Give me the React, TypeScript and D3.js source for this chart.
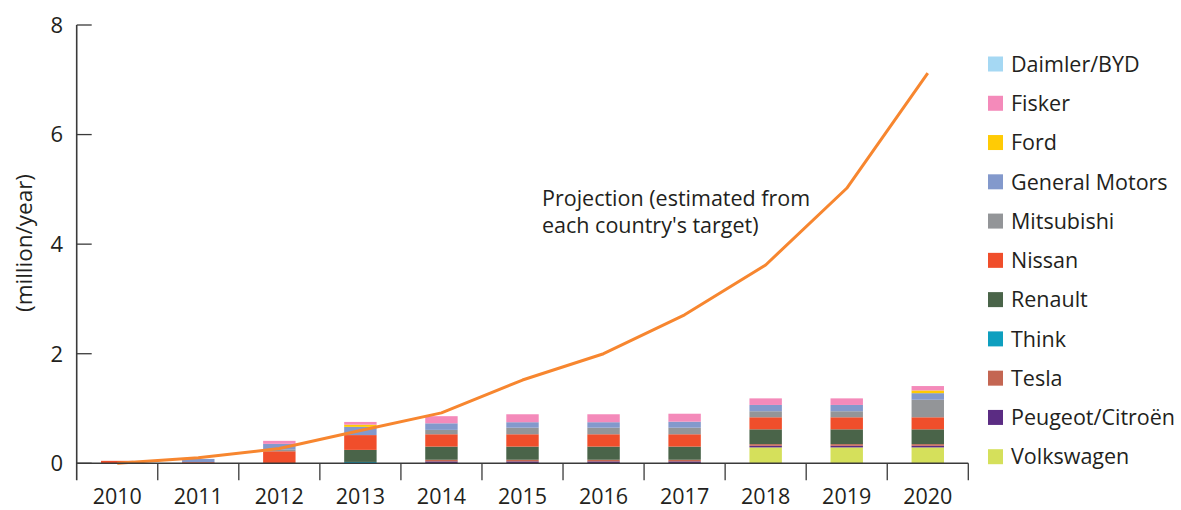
import React from "react";
import * as d3 from "d3";

const years = ["2010","2011","2012","2013","2014","2015","2016","2017","2018","2019","2020"];
const volkswagen = [0,0,0,0,0,0,0,0,0.29,0.29,0.29];
const peugeot = [0,0,0,0,0.035,0.035,0.035,0.035,0.03,0.03,0.03];
const tesla = [0,0,0,0,0.03,0.03,0.03,0.03,0.03,0.03,0.03];
const think = [0,0,0,0.025,0,0,0,0,0,0,0];
const renault = [0,0,0,0.22,0.24,0.24,0.24,0.24,0.27,0.27,0.27];
const nissan = [0.045,0.02,0.22,0.27,0.225,0.225,0.225,0.225,0.22,0.22,0.22];
const mitsubishi = [0,0,0.035,0,0.08,0.12,0.12,0.12,0.11,0.11,0.32];
const generalMotors = [0,0.06,0.1,0.15,0.12,0.1,0.1,0.11,0.115,0.115,0.12];
const ford = [0,0,0,0.04,0,0,0,0,0,0,0.05];
const fisker = [0,0,0.055,0.05,0.13,0.145,0.145,0.145,0.12,0.12,0.08];
const daimler = [0,0,0,0,0,0,0,0,0,0,0];
const projection = [0,0.1,0.27,0.6,0.92,1.52,2.0,2.71,3.62,5.02,7.12];
const yTicks = [0,2,4,6,8];

const seriesNames = ["Volkswagen","Peugeot/Citroën","Tesla","Think","Renault","Nissan","Mitsubishi","General Motors","Ford","Fisker","Daimler/BYD"];
const seriesValues = [volkswagen,peugeot,tesla,think,renault,nissan,mitsubishi,generalMotors,ford,fisker,daimler];
const seriesColors = ["#d5e05b","#5b2c83","#c46652","#0e9fbf","#4a6449","#f04e2b","#939598","#8399cc","#ffcb05","#f48aba","#a5d8f3"];
const legendOrder = ["Daimler/BYD","Fisker","Ford","General Motors","Mitsubishi","Nissan","Renault","Think","Tesla","Peugeot/Citroën","Volkswagen"];

const FONT = "'Open Sans', sans-serif";
const TEXT = "#231f20";
const AXIS = "#3a3a3a";
const FS = 21.5;

export default function App() {
  const left = 76.7, right = 968.3, top = 25, bottom = 463.3;
  const x = d3.scaleBand<string>().domain(years).range([left, right]).padding(0);
  const y = d3.scaleLinear().domain([0, 8]).range([bottom, top]);
  const bw = x.bandwidth();
  const barW = bw * 0.4;

  const table = years.map((yr, i) => {
    const row: any = { year: yr };
    seriesNames.forEach((n, j) => (row[n] = seriesValues[j][i]));
    return row;
  });
  const stacked = d3.stack<any>().keys(seriesNames)(table);

  const line = d3.line<number>()
    .x((_, i) => (x(years[i]) as number) + bw / 2)
    .y((d) => y(d));

  const colorOf = (n: string) => seriesColors[seriesNames.indexOf(n)];
  const legendY0 = 64, legendStep = 39.27;

  return (
    <svg width={1181} height={510} style={{ position: "absolute", left: 0, top: 0, background: "#fff" }}
      fontFamily={FONT}>
      {/* bars */}
      {stacked.map((s, si) => (
        <g key={s.key} fill={seriesColors[si]}>
          {s.map((d, i) => {
            const h = y(d[0]) - y(d[1]);
            if (h <= 0) return null;
            return (
              <rect key={i} x={(x(years[i]) as number) + (bw - barW) / 2} y={y(d[1])}
                width={barW} height={h} />
            );
          })}
        </g>
      ))}
      {/* projection line */}
      <path d={line(projection) || ""} fill="none" stroke="#f7862f" strokeWidth={3} strokeLinejoin="round" />

      {/* y axis */}
      <line x1={left} x2={left} y1={top} y2={bottom + 17} stroke={AXIS} strokeWidth={1.6} />
      {yTicks.map((t) => (
        <g key={t}>
          <line x1={left} x2={left + 15} y1={y(t)} y2={y(t)} stroke={AXIS} strokeWidth={1.3} />
          <text x={63} y={y(t)} dy="0.36em" textAnchor="end" fontSize={22} fill={TEXT}>{t}</text>
        </g>
      ))}
      {/* x axis */}
      <line x1={left} x2={right} y1={bottom} y2={bottom} stroke={AXIS} strokeWidth={1.6} />
      {years.map((yr, i) => (
        <g key={yr}>
          <line x1={(x(yr) as number) + bw} x2={(x(yr) as number) + bw} y1={bottom} y2={bottom + 17}
            stroke={AXIS} strokeWidth={1.3} />
          <text x={(x(yr) as number) + bw / 2} y={503.5} textAnchor="middle" fontSize={FS} fill={TEXT}>{yr}</text>
        </g>
      ))}
      <text transform={`translate(32,243) rotate(-90)`} textAnchor="middle" fontSize={22.5} fill={TEXT}>(million/year)</text>

      {/* annotation */}
      <text x={542} y={206} fontSize={FS} fill={TEXT}>Projection (estimated from</text>
      <text x={542} y={233} fontSize={FS} fill={TEXT}>each country's target)</text>

      {/* legend */}
      {legendOrder.map((n, i) => (
        <g key={n} transform={`translate(988,${legendY0 + i * legendStep})`}>
          <rect x={0} y={-7.5} width={15} height={15} fill={colorOf(n)} />
          <text x={23} y={0} dy="0.36em" fontSize={FS} fill={TEXT}>{n}</text>
        </g>
      ))}
    </svg>
  );
}
